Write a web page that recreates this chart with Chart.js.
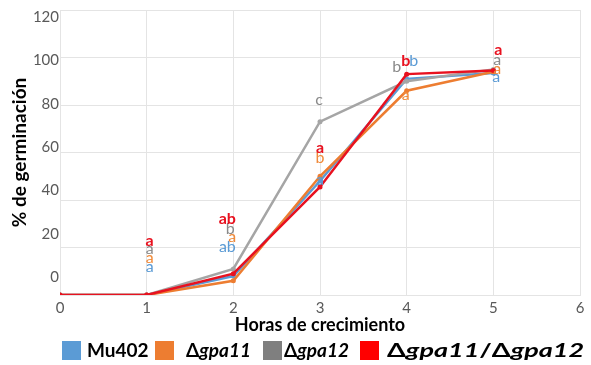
<!DOCTYPE html>
<html>
<head>
<meta charset="utf-8">
<script src="https://cdn.jsdelivr.net/npm/chart.js@4/dist/chart.umd.min.js"></script>
<style>
  html, body { margin: 0; padding: 0; background: #fff; }
  #wrap { position: relative; width: 591px; height: 365px; overflow: hidden; }
  #wrap canvas { position: absolute; left: 0; top: 0; }
  #legend { position: absolute; left: 0; top: 338px; width: 591px; height: 26px;
            font-family: Lato, "Open Sans", sans-serif; font-weight: bold; font-size: 19px; color: #000; }
  .sw { position: absolute; top: 3px; width: 19px; height: 19px; }
  .lt { position: absolute; top: 0; height: 24px; line-height: 24px; white-space: nowrap; }
  .lt.wide { transform: scaleX(1.42); transform-origin: 0 50%; }
</style>
</head>
<body>
<div id="wrap">
  <canvas id="c" width="591" height="365"></canvas>
  <div id="legend"></div>
</div>
<script>
// Hours of growth (x values)
const hours = [0, 1, 2, 3, 4, 5];
const xTicks = [0, 1, 2, 3, 4, 5, 6];
const yTickLabels = [0, 20, 40, 60, 80, 100, 120];

// Series names and % germination per hour
const seriesNames = ['Mu402', 'Δgpa11', 'Δgpa12', 'Δgpa11/Δgpa12'];
const mu402   = [0, 0, 8, 48, 91, 93.5];
const gpa11   = [0, 0, 6, 50, 86, 94];
const gpa12   = [0, 0, 11, 73, 90, 95];
const gpa1112 = [0, 0, 9, 45.5, 93, 94.5];

// Significance letters per series and hour
const lettersMu402   = ['', 'a', 'ab', 'a', 'b', 'a'];
const lettersGpa11   = ['', 'a', 'a', 'b', 'a', 'a'];
const lettersGpa12   = ['', 'a', 'b', 'c', 'b', 'a'];
const lettersGpa1112 = ['', 'a', 'ab', 'a', 'b', 'a'];

// Styling
const lineColors   = ['#5B9BD5', '#ED7D31', '#A5A5A5', '#E8111F'];
const swatchColors = ['#5B9BD5', '#ED7D31', '#7F7F7F', '#FF0000'];
const letterColors = ['#5B9BD5', '#F08A3A', '#8A8A8A', '#E8111F'];
const letterBold   = [false, false, false, true];
// pixel offsets of each letter from its point
const letterOffsets = [
  [null, [3, -28], [-6, -29], [0, -1],  [7, -18],  [3, 4]],
  [null, [3, -37], [-1, -44], [0, -18], [-1, 4],   [4, -3]],
  [null, [3, -46], [-3, -40], [-1, -22], [-10, -14], [4, -10]],
  [null, [3, -54], [-6, -55], [0, -39], [-1, -13], [5, -21]]
];
const swatchLefts = [62, 155, 263, 360];
const labelLefts  = [87, 186, 284, 387];

const values = [mu402, gpa11, gpa12, gpa1112];
const letters = [lettersMu402, lettersGpa11, lettersGpa12, lettersGpa1112];
const drawOrder = [3, 2, 1, 0];

const datasets = values.map((vals, i) => ({
  label: seriesNames[i],
  data: hours.map((h, j) => ({ x: h, y: vals[j] })),
  borderColor: lineColors[i],
  backgroundColor: lineColors[i],
  borderWidth: 2.5,
  pointRadius: 2.5,
  pointBorderWidth: 0,
  tension: 0,
  order: drawOrder[i]
}));

const sigLetters = {
  id: 'sigLetters',
  afterDatasetsDraw(chart) {
    const ctx = chart.ctx;
    const xs = chart.scales.x, ys = chart.scales.y;
    ctx.save();
    ctx.textAlign = 'center';
    ctx.textBaseline = 'middle';
    letters.forEach((row, i) => {
      ctx.fillStyle = letterColors[i];
      ctx.font = (letterBold[i] ? 'bold ' : '') + '16px Lato, "Open Sans", sans-serif';
      row.forEach((t, j) => {
        if (!t) return;
        const off = letterOffsets[i][j];
        const px = xs.getPixelForValue(hours[j]) + off[0];
        const py = ys.getPixelForValue(values[i][j]) + off[1];
        ctx.fillText(t, px, py);
      });
    });
    ctx.restore();
  }
};

const gridColor = '#E4E4E4';
new Chart(document.getElementById('c'), {
  type: 'line',
  data: { datasets },
  plugins: [sigLetters],
  options: {
    responsive: false,
    animation: false,
    events: [],
    layout: { padding: { top: 0, right: 11, bottom: 25, left: 0 } },
    plugins: { legend: { display: false }, tooltip: { enabled: false } },
    scales: {
      x: {
        type: 'linear', min: 0, max: 6,
        afterBuildTicks: s => { s.ticks = xTicks.map(v => ({ value: v })); },
        afterFit: s => { s.height = 45; },
        grid: { color: gridColor, drawTicks: false },
        border: { color: gridColor },
        ticks: { padding: 4, color: '#595959', font: { family: 'Lato', size: 15 } },
        title: { display: true, text: 'Horas de crecimiento', color: '#000',
                 font: { family: 'Lato', size: 18, weight: 'bold' }, padding: { top: 0, bottom: 4 } }
      },
      y: {
        type: 'linear', min: 0, max: 120, position: 'left', weight: 0,
        afterBuildTicks: s => { s.ticks = yTickLabels.map(v => ({ value: v })); },
        afterFit: s => { s.width = 0; },
        grid: { color: gridColor, drawTicks: false },
        border: { color: gridColor },
        ticks: { display: false }
      },
      yLab: {
        type: 'linear', min: -8.24, max: 123.2, position: 'left', weight: 1,
        afterBuildTicks: s => { s.ticks = yTickLabels.map(v => ({ value: v })); },
        afterFit: s => { s.width = 60; },
        grid: { display: false, drawTicks: false },
        border: { display: false },
        ticks: { padding: 1, color: '#595959', font: { family: 'Lato', size: 15 } },
        title: { display: true, text: '% de germinación', color: '#000',
                 font: { family: 'Lato', size: 19, weight: 'bold' }, padding: { top: 8, bottom: 0 } }
      }
    }
  }
});

// Legend with italic gene names
const legend = document.getElementById('legend');
seriesNames.forEach((name, i) => {
  const sw = document.createElement('span');
  sw.className = 'sw';
  sw.style.left = swatchLefts[i] + 'px';
  sw.style.background = swatchColors[i];
  const txt = document.createElement('span');
  txt.className = 'lt' + (i === 3 ? ' wide' : '');
  txt.style.left = labelLefts[i] + 'px';
  txt.innerHTML = name.replace(/gpa\d+/g, m => '<i>' + m + '</i>');
  legend.appendChild(sw);
  legend.appendChild(txt);
});
</script>
</body>
</html>
